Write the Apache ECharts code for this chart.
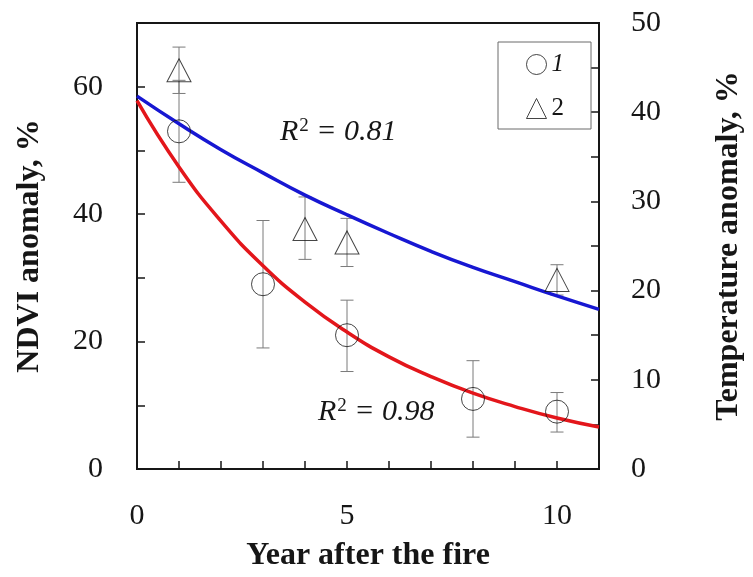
<!DOCTYPE html>
<html>
<head>
<meta charset="utf-8">
<script src="https://cdn.jsdelivr.net/npm/echarts@6/dist/echarts.min.js"></script>
<style>
  html, body { margin: 0; padding: 0; background: #fff; }
  #chart { width: 753px; height: 577px; }
</style>
</head>
<body>
<div id="chart"></div>
<script>
// NDVI anomaly (left axis, %) with error limits
const ndviYears = [1, 3, 5, 8, 10];
const ndviValues = [53, 29, 21, 11, 9];
const ndviLow = [45, 19, 15.3, 5, 5.8];
const ndviHigh = [61, 39, 26.5, 17, 12];

// Temperature anomaly (right axis, %) with error limits
const tempYears = [1, 4, 5, 10];
const tempValues = [44.7, 26.9, 25.4, 21.2];
const tempLow = [42.1, 23.5, 22.7, 19.5];
const tempHigh = [47.3, 30.5, 28.1, 22.9];

// Fitted trend curves, read at whole years
const fitYears = [0, 1, 2, 3, 4, 5, 6, 7, 8, 9, 10, 11];
const ndviFit = [57.8, 47.4, 38.9, 31.9, 26.2, 21.5, 17.6, 14.5, 11.9, 9.8, 8.0, 6.6];
const tempFit = [41.8, 38.7, 35.8, 33.2, 30.7, 28.5, 26.4, 24.4, 22.6, 21.0, 19.4, 17.9];

// Labelled ticks
const xLabelled = [0, 5, 10];
const leftLabelled = [0, 20, 40, 60];
const rightLabelled = [0, 10, 20, 30, 40, 50];

const FONT = '"Liberation Serif", "Times New Roman", serif';
const INK = '#161616';

const chart = echarts.init(document.getElementById('chart'), null, { renderer: 'canvas' });

// Vertical error bar with short caps, placed through the axis scales
function errorBars(xs, lows, highs, yAxisIndex) {
  return {
    type: 'custom',
    yAxisIndex: yAxisIndex,
    silent: true,
    z: 1,
    data: xs.map((x, i) => [x, lows[i], highs[i]]),
    encode: { x: 0, y: [1, 2] },
    renderItem: function (params, api) {
      const lo = api.coord([api.value(0), api.value(1)]);
      const hi = api.coord([api.value(0), api.value(2)]);
      const hw = 6.5;
      const style = { stroke: '#7a7a7a', lineWidth: 1, fill: null };
      return {
        type: 'group',
        children: [
          { type: 'line', shape: { x1: lo[0], y1: lo[1], x2: hi[0], y2: hi[1] }, style: style },
          { type: 'line', shape: { x1: lo[0] - hw, y1: lo[1], x2: lo[0] + hw, y2: lo[1] }, style: style },
          { type: 'line', shape: { x1: hi[0] - hw, y1: hi[1], x2: hi[0] + hw, y2: hi[1] }, style: style }
        ]
      };
    }
  };
}

const tickLabelStyle = { fontFamily: FONT, fontSize: 30, color: INK };
const nameStyle = { fontFamily: FONT, fontSize: 32, fontWeight: 'bold', color: INK };
const axisLineStyle = { show: true, lineStyle: { color: INK, width: 2 } };
const tickStyle = { show: true, inside: true, length: 8, lineStyle: { color: INK, width: 1.5 } };

const r2Rich = {
  r: { fontFamily: FONT, fontSize: 30, fontStyle: 'italic', fill: INK },
  s: { fontFamily: FONT, fontSize: 19, fill: INK, padding: [0, 0, 12, 1] }
};

const option = {
  animation: false,
  backgroundColor: '#fff',
  grid: {
    left: 137, right: 142, top: 23, bottom: 108,
    show: true, borderColor: INK, borderWidth: 2, backgroundColor: 'transparent'
  },
  legend: {
    orient: 'vertical',
    left: 498, top: 42,
    padding: [10, 27, 8, 28],
    itemGap: 19,
    itemWidth: 20, itemHeight: 20,
    borderColor: '#6a6a6a', borderWidth: 1,
    data: [
      { name: '1', icon: 'circle' },
      { name: '2', icon: 'triangle' }
    ],
    itemStyle: { color: 'rgba(0,0,0,0)', borderColor: INK, borderWidth: 1 },
    formatter: function (name) { return name === '1' ? '{i|1}' : '{n|2}'; },
    textStyle: {
      fontFamily: FONT, fontSize: 25, color: INK,
      rich: {
        i: { fontFamily: FONT, fontSize: 25, fontStyle: 'italic', color: INK },
        n: { fontFamily: FONT, fontSize: 25, color: INK }
      }
    }
  },
  xAxis: {
    type: 'value', min: 0, max: 11, interval: 1,
    name: 'Year after the fire', nameLocation: 'middle', nameGap: 71,
    nameTextStyle: nameStyle,
    axisLine: axisLineStyle,
    axisTick: tickStyle,
    splitLine: { show: false },
    axisLabel: {
      margin: 32, ...tickLabelStyle,
      formatter: v => (xLabelled.includes(v) ? String(v) : '')
    }
  },
  yAxis: [
    {
      type: 'value', min: 0, max: 70, interval: 10, position: 'left',
      name: 'NDVI anomaly, %', nameLocation: 'middle', nameGap: 91,
      nameTextStyle: nameStyle,
      axisLine: axisLineStyle,
      axisTick: tickStyle,
      splitLine: { show: false },
      axisLabel: {
        margin: 34, ...tickLabelStyle,
        formatter: v => (leftLabelled.includes(v) ? String(v) : '')
      }
    },
    {
      type: 'value', min: 0, max: 50, interval: 5, position: 'right',
      name: 'Temperature anomaly, %', nameLocation: 'middle', nameGap: 114,
      nameTextStyle: nameStyle,
      axisLine: axisLineStyle,
      axisTick: tickStyle,
      splitLine: { show: false },
      axisLabel: {
        margin: 32, ...tickLabelStyle,
        formatter: v => (rightLabelled.includes(v) ? String(v) : '')
      }
    }
  ],
  graphic: [
    {
      type: 'text', left: 280, top: 117, silent: true,
      style: { text: '{r|R}{s|2}{r| = 0.81}', rich: r2Rich }
    },
    {
      type: 'text', left: 318, top: 397, silent: true,
      style: { text: '{r|R}{s|2}{r| = 0.98}', rich: r2Rich }
    }
  ],
  series: [
    errorBars(ndviYears, ndviLow, ndviHigh, 0),
    errorBars(tempYears, tempLow, tempHigh, 1),
    {
      name: 'ndvi-fit', type: 'line', yAxisIndex: 0, smooth: true, showSymbol: false,
      silent: true, z: 2,
      data: fitYears.map((x, i) => [x, ndviFit[i]]),
      lineStyle: { color: '#e3161b', width: 3.5 }
    },
    {
      name: 'temp-fit', type: 'line', yAxisIndex: 1, smooth: true, showSymbol: false,
      silent: true, z: 2,
      data: fitYears.map((x, i) => [x, tempFit[i]]),
      lineStyle: { color: '#1717d2', width: 3.5 }
    },
    {
      name: '1', type: 'scatter', yAxisIndex: 0, symbol: 'circle', symbolSize: 23, z: 3,
      data: ndviYears.map((x, i) => [x, ndviValues[i]]),
      itemStyle: { color: 'rgba(0,0,0,0)', borderColor: INK, borderWidth: 1 }
    },
    {
      name: '2', type: 'scatter', yAxisIndex: 1, symbol: 'triangle', symbolSize: [24, 23], z: 3,
      data: tempYears.map((x, i) => [x, tempValues[i]]),
      itemStyle: { color: 'rgba(0,0,0,0)', borderColor: INK, borderWidth: 1 }
    }
  ]
};

chart.setOption(option);
</script>
</body>
</html>
